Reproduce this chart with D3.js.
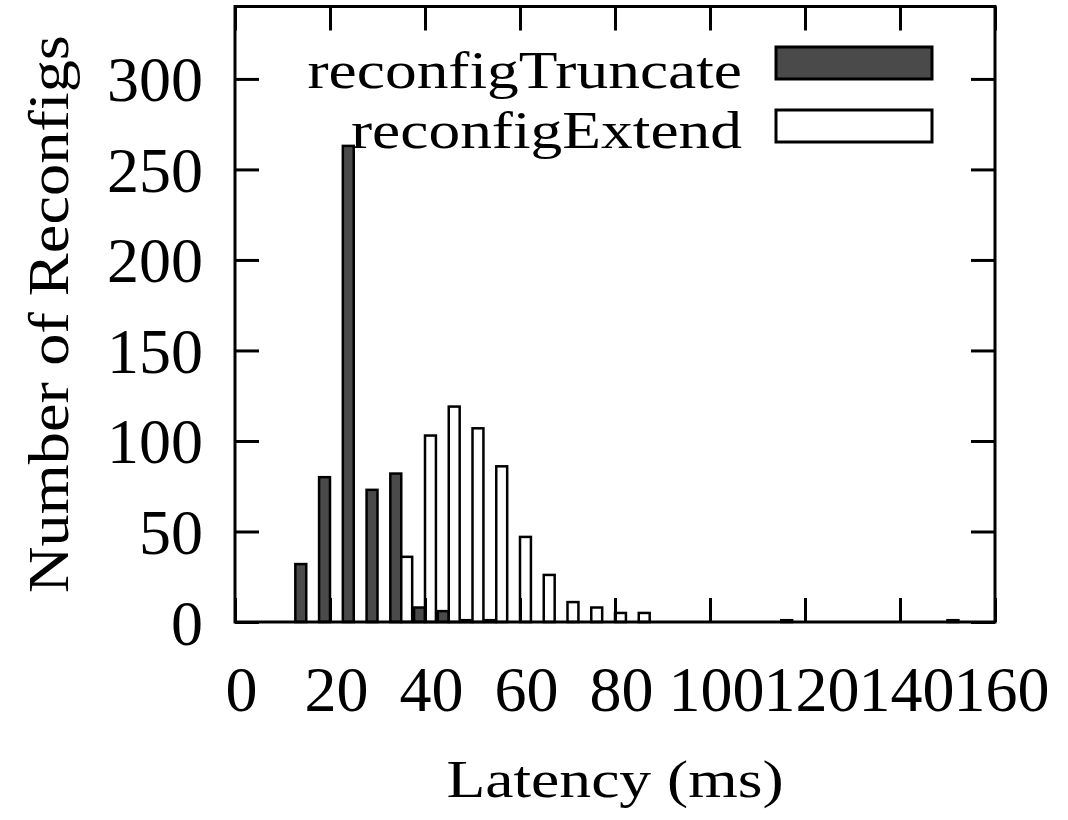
<!DOCTYPE html>
<meta charset="utf-8">
<head>
  <title>Reconfig latency histogram</title>
</head>
<style>
  body { margin: 0; background: #fff; }
  svg text { font-family: "Liberation Serif", "Times New Roman", serif; fill: #000; }
</style>
<body>
<svg width="1068" height="820"></svg>
<script src="https://cdn.jsdelivr.net/npm/d3@7"></script>
<script>

// latency bins (ms), centre of each bin
var bins = [15, 20, 25, 30, 35, 40, 45, 50, 55, 60, 65, 70, 75, 80, 85, 115, 150];
var truncate = [32, 80, 263, 73, 82, 8, 6, 1, 1, 0, 0, 0, 0, 0, 0, 0, 0];
var extend = [0, 0, 0, 0, 36, 103, 119, 107, 86, 47, 26, 11, 8, 5, 5, 1, 1];

var seriesNames = ["reconfigTruncate", "reconfigExtend"];
var seriesFill = ["#4a4a4a", "#ffffff"];

var xTicks = [0, 20, 40, 60, 80, 100, 120, 140, 160];
var yTicks = [0, 50, 100, 150, 200, 250, 300];

var svg = d3.select("svg");
var plotLeft = 235, plotRight = 995, plotTop = 6.5, plotBottom = 622;

var x = d3.scaleLinear().domain([0, 160]).range([plotLeft, plotRight]);
var y = d3.scaleLinear().domain([0, 340]).range([plotBottom, plotTop]);

var barW = 2.3;      // bar width in ms
var offset = 1.15;   // shift of each series from bin centre

var data = [];
bins.forEach(function(b, i) {
  data.push({ bin: b, v: truncate[i], s: 0 });
  data.push({ bin: b, v: extend[i], s: 1 });
});

svg.append("g").selectAll("rect")
  .data(data.filter(function(d) { return d.v > 0; }))
  .enter().append("rect")
  .attr("x", function(d) { return x(d.bin + (d.s == 0 ? -offset : offset) - barW / 2); })
  .attr("width", function(d) { return x(barW) - x(0); })
  .attr("y", function(d) { return y(d.v); })
  .attr("height", function(d) { return y(0) - y(d.v); })
  .style("fill", function(d) { return seriesFill[d.s]; })
  .style("stroke", "#000")
  .style("stroke-width", 2.5);

// axes, ticks pointing inward on all four sides
var tick = 24;
var gx = svg.append("g").attr("transform", "translate(0," + plotBottom + ")")
  .call(d3.axisBottom(x).tickValues(xTicks).tickSize(-tick).tickPadding(0));
var gxt = svg.append("g").attr("transform", "translate(0," + plotTop + ")")
  .call(d3.axisTop(x).tickValues(xTicks).tickSize(-tick).tickFormat(""));
var gy = svg.append("g").attr("transform", "translate(" + plotLeft + ",0)")
  .call(d3.axisLeft(y).tickValues(yTicks).tickSize(-tick).tickPadding(32));
var gyr = svg.append("g").attr("transform", "translate(" + plotRight + ",0)")
  .call(d3.axisRight(y).tickValues(yTicks).tickSize(-tick).tickFormat(""));

[gx, gxt, gy, gyr].forEach(function(g) {
  g.select(".domain").remove();
  g.selectAll("line").style("stroke", "#000").style("stroke-width", 3);
});

gx.selectAll("text")
  .attr("dy", null)
  .attr("y", 89)
  .attr("x", 6)
  .style("font-size", "64px");

gy.selectAll("text")
  .attr("dy", null)
  .attr("y", 22)
  .style("font-size", "64px");

// frame
svg.append("rect")
  .attr("x", plotLeft).attr("y", plotTop)
  .attr("width", plotRight - plotLeft).attr("height", plotBottom - plotTop)
  .style("fill", "none").style("stroke", "#000").style("stroke-width", 3);

// axis titles
svg.append("text")
  .attr("transform", "translate(" + (plotLeft + plotRight) / 2 + ",797) scale(1.2,1)")
  .attr("text-anchor", "middle")
  .style("font-size", "53px")
  .text("Latency (ms)");

svg.append("text")
  .attr("transform", "translate(68,314) rotate(-90) scale(1.15,1)")
  .attr("text-anchor", "middle")
  .style("font-size", "56px")
  .text("Number of Reconfigs");

// legend
var legend = svg.append("g").selectAll("g")
  .data(seriesNames)
  .enter().append("g")
  .attr("transform", function(d, i) { return "translate(0," + (63 + i * 63) + ")"; });

legend.append("rect")
  .attr("x", 776).attr("y", -16)
  .attr("width", 156).attr("height", 32)
  .style("fill", function(d, i) { return seriesFill[i]; })
  .style("stroke", "#000").style("stroke-width", 3);

legend.append("text")
  .attr("transform", function(d, i) { return "translate(742," + (25 - i * 3) + ") scale(1.22,1)"; })
  .attr("text-anchor", "end")
  .style("font-size", "52px")
  .text(function(d) { return d; });

</script>
</body>
</html>
